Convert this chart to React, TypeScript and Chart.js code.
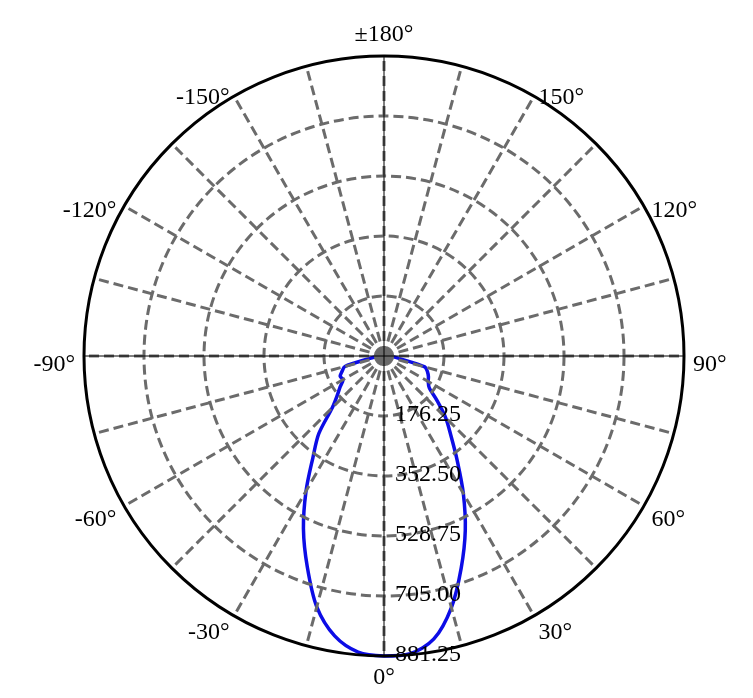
import React, { useEffect, useRef } from 'react';
import { Chart, registerables } from 'chart.js';

Chart.register(...registerables);

// Polar angles (degrees), listed clockwise starting from the top (±180°)
const angles: number[] = [
  180, 175, 170, 165, 160, 155, 150, 145, 140, 135, 130, 125,
  120, 115, 110, 105, 100, 95, 90, 85, 80, 75, 70, 65,
  60, 55, 50, 45, 40, 35, 30, 25, 20, 15, 10, 5,
  0, -5, -10, -15, -20, -25, -30, -35, -40, -45, -50, -55,
  -60, -65, -70, -75, -80, -85, -90, -95, -100, -105, -110, -115,
  -120, -125, -130, -135, -140, -145, -150, -155, -160, -165, -170, -175,
];

// Luminous intensity (cd) at each angle above
const intensity: number[] = [
  8, 8, 8, 8, 8, 8, 8, 8, 8, 8, 8, 8,
  8, 8, 9, 10, 11, 14, 18, 29, 50, 124, 136, 144,
  150, 162, 203, 256, 306, 375, 466, 565, 663, 765, 844, 878,
  881.25, 873, 835, 763, 659, 560, 458, 364, 298, 215, 179, 157,
  139, 142, 131, 119, 45, 25, 15, 11, 10, 9, 8, 8,
  8, 8, 8, 8, 8, 8, 8, 8, 8, 8, 8, 8,
];

const radialTicks: number[] = [176.25, 352.5, 528.75, 705.0, 881.25];
const labelledAngles: number[] = [180, 150, 120, 90, 60, 30, 0, -30, -60, -90, -120, -150];
const spokeStep = 15;

const GRAY = '#6b6b6b';
const FONT = '24px "Liberation Serif", "Times New Roman", serif';

const angleText = (a: number) => (a === 180 ? '±180°' : `${a}°`);

const decorPlugin = {
  id: 'polarDecor',
  afterDraw(chart: any) {
    const scale = chart.scales.r;
    const ctx: CanvasRenderingContext2D = chart.ctx;
    const cx = scale.xCenter;
    const cy = scale.yCenter;
    const R = scale.drawingArea;
    ctx.save();
    // thin black axis lines
    ctx.strokeStyle = '#000';
    ctx.lineWidth = 1;
    angles.forEach((a, i) => {
      if (a % 90 !== 0) return;
      const p = scale.getPointPosition(i, R);
      ctx.beginPath();
      ctx.moveTo(cx, cy);
      ctx.lineTo(p.x, p.y);
      ctx.stroke();
    });
    // angle labels
    ctx.font = FONT;
    ctx.fillStyle = '#000';
    angles.forEach((a, i) => {
      if (!labelledAngles.includes(a)) return;
      const p = scale.getPointPosition(i, R + 9);
      const ang = scale.getIndexAngle(i);
      const s = Math.sin(ang);
      const c = Math.cos(ang);
      ctx.textBaseline = 'middle';
      if (Math.abs(s) < 0.01) {
        ctx.textAlign = 'center';
        ctx.fillText(angleText(a), p.x, c > 0 ? p.y - 12 : p.y + 13);
      } else {
        ctx.textAlign = s > 0 ? 'left' : 'right';
        ctx.fillText(angleText(a), p.x, p.y + 9);
      }
    });
    // radial tick labels along the 0° direction
    ctx.textAlign = 'left';
    ctx.textBaseline = 'middle';
    radialTicks.forEach((v) => {
      const d = scale.getDistanceFromCenterForValue(v);
      ctx.fillText(v.toFixed(2), cx + 11, cy + d - 1);
    });
    ctx.restore();
  },
};

export default function App() {
  const canvasRef = useRef<HTMLCanvasElement>(null);

  useEffect(() => {
    const maxV = radialTicks[radialTicks.length - 1];
    const chart = new Chart(canvasRef.current as HTMLCanvasElement, {
      type: 'radar',
      data: {
        labels: angles.map(angleText),
        datasets: [
          {
            data: intensity,
            borderColor: 'rgb(12, 12, 230)',
            borderWidth: 3.5,
            fill: false,
            pointRadius: 0,
            pointHoverRadius: 0,
            tension: 0.3,
          },
        ],
      },
      options: {
        responsive: false,
        maintainAspectRatio: false,
        animation: false,
        devicePixelRatio: 1,
        layout: { padding: { top: 56, bottom: 42, left: 84, right: 69 } },
        plugins: { legend: { display: false }, tooltip: { enabled: false } },
        scales: {
          r: {
            min: 0,
            max: maxV,
            startAngle: 0,
            afterBuildTicks: (scale: any) => {
              scale.ticks = [0, ...radialTicks].map((v) => ({ value: v }));
            },
            ticks: { display: false, z: 1 },
            pointLabels: { display: false },
            grid: {
              circular: true,
              z: 1,
              lineWidth: 3,
              color: (c: any) => (c.tick && c.tick.value >= maxV ? '#000' : GRAY),
            },
            border: {
              dash: (c: any) => (c.tick && c.tick.value >= maxV ? [] : [10, 5]),
            },
            angleLines: {
              display: true,
              color: GRAY,
              lineWidth: (c: any) => (angles[c.index] % spokeStep === 0 ? 3 : 0),
              borderDash: [10, 5],
            },
          },
        },
      } as any,
      plugins: [decorPlugin],
    });
    return () => chart.destroy();
  }, []);

  return (
    <div style={{ position: 'absolute', left: 0, top: 0, width: 753, height: 698, background: '#fff' }}>
      <canvas ref={canvasRef} width={753} height={698} style={{ display: 'block', width: 753, height: 698 }} />
    </div>
  );
}
